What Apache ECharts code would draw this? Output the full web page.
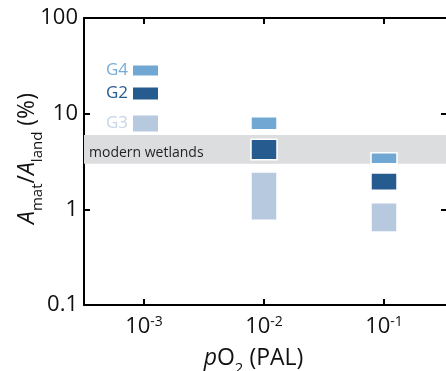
<!DOCTYPE html>
<html>
<head>
<meta charset="utf-8">
<script src="https://cdn.jsdelivr.net/npm/echarts@6/dist/echarts.min.js"></script>
<style>
  html, body { margin: 0; padding: 0; background: #fff; overflow: hidden; }
  #chart { width: 450px; height: 371px; }
</style>
</head>
<body>
<div id="chart"></div>
<script>
// pO2 (PAL) positions of the model runs
const pO2 = [0.01, 0.1];
// Amat/Aland (%) ranges, low and high end of each box
const g4Low = [6.8, 3.0];
const g4High = [9.3, 3.9];
const g2Low = [3.3, 1.58];
const g2High = [5.4, 2.4];
const g3Low = [0.77, 0.58];
const g3High = [2.45, 1.17];
// modern wetlands band (%)
const wetlands = [3.0, 6.0];
// axis ticks
const xTicks = [0.001, 0.01, 0.1];
const xRange = [Math.pow(10, -3.5), Math.pow(10, -0.475)];
const yRange = [0.1, 100];

const font = 'Open Sans';

function buildData(low, high) {
  let result = [];
  pO2.map(function (x, i) {
    result.push([x, low[i], high[i]]);
  });
  return result;
}

// draw one box from low to high
function renderBox(params, api) {
  const top = api.coord([api.value(0), api.value(2)]);
  const bottom = api.coord([api.value(0), api.value(1)]);
  const w = 26;
  return {
    type: 'rect',
    shape: { x: top[0] - w / 2, y: top[1], width: w, height: bottom[1] - top[1] },
    style: { fill: api.visual('color'), stroke: '#fff', lineWidth: 1.5 }
  };
}

function boxSeries(name, color, low, high) {
  return {
    name: name,
    type: 'custom',
    z: 3,
    itemStyle: { color: color },
    encode: { x: 0, y: [1, 2] },
    renderItem: renderBox,
    data: buildData(low, high)
  };
}

function legendItem(name, textColor, top, h) {
  return {
    data: [{ name: name, textStyle: { color: textColor } }],
    right: 292,
    top: top,
    padding: 0,
    icon: 'rect',
    align: 'right',
    itemWidth: 25,
    itemHeight: h,
    selectedMode: false,
    textStyle: { fontFamily: font, fontSize: 17 }
  };
}

const axisLine = { show: true, lineStyle: { color: '#000', width: 2 } };
const axisTick = { show: true, inside: true, length: 6, lineStyle: { color: '#000', width: 2 } };

const nameRich = {
  i: { fontFamily: font, fontSize: 23, fontStyle: 'italic', color: '#111', lineHeight: 26 },
  n: { fontFamily: font, fontSize: 23, fontStyle: 'normal', color: '#111', lineHeight: 26 },
  sub: { fontFamily: font, fontSize: 15, fontStyle: 'normal', color: '#111', verticalAlign: 'bottom', lineHeight: 14, padding: [0, 0, -5, 0] }
};

const option = {
  animation: false,
  grid: { left: 84, top: 18, width: 363, bottom: 66, outerBoundsMode: 'none' },
  legend: [
    legendItem('G4', '#79acd6', 62, 10),
    legendItem('G2', '#2a5c8e', 85, 12),
    legendItem('G3', '#c6d5e8', 115, 16)
  ],
  xAxis: [{
    type: 'log',
    min: xRange[0],
    max: xRange[1],
    position: 'bottom',
    axisLine: axisLine,
    axisTick: Object.assign({ customValues: xTicks }, axisTick),
    splitLine: { show: false },
    axisLabel: {
      customValues: xTicks,
      margin: 10,
      formatter: function (v) {
        return '{b|10}{sup|' + Math.round(Math.log10(v)) + '}';
      },
      rich: {
        b: { fontFamily: font, fontSize: 22, color: '#111', lineHeight: 24 },
        sup: { fontFamily: font, fontSize: 14, color: '#111', verticalAlign: 'top', lineHeight: 24, padding: [0, 0, 8, 0] }
      }
    },
    name: '{i|p}{n|O}{sub|2}{n| (PAL)}',
    nameLocation: 'middle',
    nameGap: 40,
    nameMoveOverlap: false,
    nameTextStyle: { padding: [0, 24, 0, 0], rich: nameRich }
  }, {
    type: 'log',
    min: xRange[0],
    max: xRange[1],
    position: 'top',
    axisLine: axisLine,
    axisTick: Object.assign({ customValues: xTicks }, axisTick),
    axisLabel: { show: false },
    splitLine: { show: false }
  }],
  yAxis: [{
    type: 'log',
    min: yRange[0],
    max: yRange[1],
    logBase: 10,
    axisLine: axisLine,
    axisTick: axisTick,
    splitLine: { show: false },
    minorTick: { show: false },
    axisLabel: { fontFamily: font, fontSize: 22, color: '#111', margin: 6 },
    name: '{i|A}{sub|mat}{n|/}{i|A}{sub|land}{n| (%)}',
    nameLocation: 'middle',
    nameGap: 44,
    nameMoveOverlap: false,
    nameTextStyle: { padding: [0, 0, 0, 6], rich: nameRich }
  }, {
    type: 'log',
    min: yRange[0],
    max: yRange[1],
    logBase: 10,
    position: 'right',
    axisLine: axisLine,
    axisTick: axisTick,
    axisLabel: { show: false },
    splitLine: { show: false }
  }],
  series: [
    {
      name: 'wetlands',
      type: 'line',
      z: 1,
      data: [],
      markArea: {
        silent: true,
        itemStyle: { color: '#dcdddf' },
        label: {
          show: true,
          position: 'insideLeft',
          offset: [0, 4],
          color: '#231f20',
          fontFamily: font,
          fontSize: 14
        },
        data: [[{ name: 'modern wetlands', yAxis: wetlands[0] }, { yAxis: wetlands[1] }]]
      }
    },
    boxSeries('G4', '#71a8d3', g4Low, g4High),
    boxSeries('G2', '#255b8e', g2Low, g2High),
    boxSeries('G3', '#b7c9df', g3Low, g3High)
  ]
};

const myChart = echarts.init(document.getElementById('chart'));
// draw the chart
myChart.setOption(option);
</script>
</body>
</html>
